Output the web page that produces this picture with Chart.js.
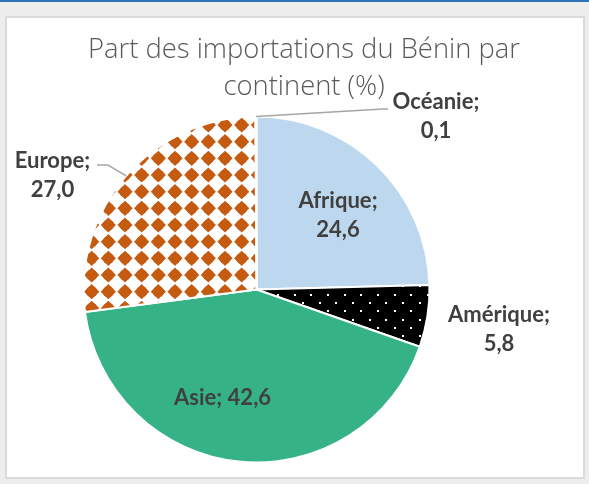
<!DOCTYPE html>
<html><head><meta charset="utf-8">
<script src="https://cdn.jsdelivr.net/npm/chart.js@4"></script>
<style>
html,body{margin:0;padding:0;width:589px;height:484px;background:#EDEDED;overflow:hidden}
#topline{position:absolute;left:0;top:0;width:589px;height:2px;background:#2E75B6}
#card{position:absolute;left:5px;top:16px;width:576px;height:459px;background:#fff;border:2px solid #DADADA}
#c{position:absolute;left:0;top:0}
</style></head><body>
<div id="topline"></div><div id="card"></div>
<canvas id="c" width="589" height="484"></canvas>
<script>
const titleLines = ['Part des importations du Bénin par', 'continent (%)'];
const categories = ['Afrique', 'Amérique', 'Asie', 'Europe', 'Océanie'];
const values = [24.6, 5.8, 42.6, 27.0, 0.1];
const valueLabels = ['24,6', '5,8', '42,6', '27,0', '0,1'];

function diamondPattern() {
  const t = document.createElement('canvas'); t.width = 50; t.height = 50;
  const g = t.getContext('2d');
  g.fillStyle = '#ffffff'; g.fillRect(0, 0, 50, 50);
  g.fillStyle = '#C55A11';
  const s = 50 / 3;
  for (let i = -1; i <= 3; i++) for (let j = -1; j <= 3; j++) {
    const cx = i * s + s / 2, cy = j * s + s / 2;
    g.beginPath();
    g.moveTo(cx, cy - 7.6); g.lineTo(cx + 7.6, cy); g.lineTo(cx, cy + 7.6); g.lineTo(cx - 7.6, cy); g.closePath();
    g.fill();
    g.beginPath(); g.arc(cx, cy, 5.6, 0, Math.PI * 2); g.fill();
  }
  return g.createPattern(t, 'repeat');
}
function dotPattern() {
  const t = document.createElement('canvas'); t.width = 50; t.height = 50;
  const g = t.getContext('2d');
  g.fillStyle = '#000000'; g.fillRect(0, 0, 50, 50);
  g.fillStyle = '#ffffff';
  const s = 50 / 3;
  for (let i = 0; i < 3; i++) for (let j = 0; j < 3; j++) {
    const cx = i * s + 2, cy = j * s + 2;
    g.fillRect(Math.round(cx), Math.round(cy), 2, 2);
    g.fillRect(Math.round(cx + s / 2), Math.round(cy + s / 2), 2, 2);
  }
  return g.createPattern(t, 'repeat');
}

const colors = ['#BDD7EE', dotPattern(), '#36B386', diamondPattern(), '#A5A5A5'];

// label block centre offsets from the pie centre (px)
const labelOffsets = [[81.5, -74.5], [242.5, 40], [-34, 108.5], [-204, -114.5], [179.5, -173.5]];
const twoLines = [true, true, false, true, true];

const labelPlugin = {
  id: 'labels',
  afterDatasetsDraw(chart) {
    const ctx = chart.ctx;
    const meta = chart.getDatasetMeta(0);
    const arc0 = meta.data[0];
    const cx = arc0.x, cy = arc0.y, R = arc0.outerRadius;
    ctx.save();
    ctx.strokeStyle = '#A6A6A6'; ctx.lineWidth = 1.5;
    const lead = (idx, pts) => {
      const a = meta.data[idx];
      const mid = (a.startAngle + a.endAngle) / 2;
      ctx.beginPath();
      ctx.moveTo(cx + Math.cos(mid) * R, cy + Math.sin(mid) * R);
      pts.forEach(p => ctx.lineTo(cx + p[0], cy + p[1]));
      ctx.stroke();
    };
    lead(3, [[-148.5, -124.5], [-159.5, -124.5]]);
    lead(4, [[126.5, -180.5], [131.5, -180.5]]);
    const fam = '"Lato", "Open Sans", sans-serif';
    ctx.font = 'bold 20px ' + fam;
    const w = ctx.measureText('Amérique;').width;
    const fs = 20 * 102 / w;
    ctx.font = 'bold ' + fs.toFixed(2) + 'px ' + fam;
    ctx.fillStyle = '#404040';
    ctx.textAlign = 'center'; ctx.textBaseline = 'middle';
    categories.forEach((c, i) => {
      const x = cx + labelOffsets[i][0], y = cy + labelOffsets[i][1];
      if (twoLines[i]) {
        ctx.fillText(c + ';', x, y - 14.5);
        ctx.fillText(valueLabels[i], x, y + 14.5);
      } else {
        ctx.fillText(c + '; ' + valueLabels[i], x, y);
      }
    });
    ctx.font = '300 22px "Open Sans"';
    const tw = ctx.measureText(titleLines[0]).width;
    const ts = 22 * 432 / tw;
    ctx.font = '300 ' + ts.toFixed(2) + 'px "Open Sans"';
    ctx.fillStyle = '#595959';
    ctx.fillText(titleLines[0], 304, 50);
    ctx.fillText(titleLines[1], 304, 87);
    ctx.restore();
  }
};

new Chart(document.getElementById('c'), {
  type: 'pie',
  data: {
    labels: categories,
    datasets: [{
      data: values,
      backgroundColor: colors,
      borderColor: '#ffffff',
      borderWidth: 2,
      radius: 173
    }]
  },
  options: {
    responsive: false,
    animation: false,
    layout: { padding: { left: 83, right: 159, top: 116, bottom: 21 } },
    plugins: { legend: { display: false }, tooltip: { enabled: false }, title: { display: false } }
  },
  plugins: [labelPlugin]
});
</script>
</body></html>
